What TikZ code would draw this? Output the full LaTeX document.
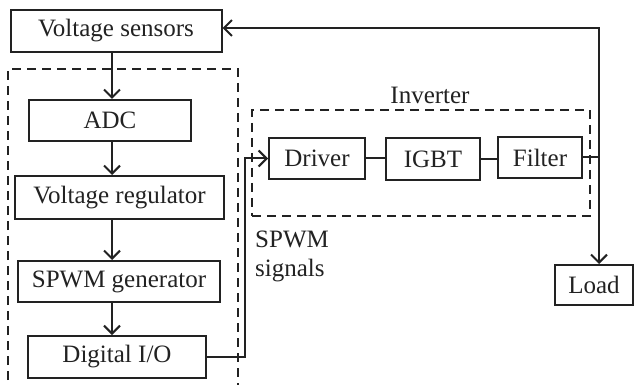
\documentclass[tikz,border=0pt]{standalone}
\usepackage{fontspec}
\setmainfont{Liberation Serif}
\usetikzlibrary{arrows.meta}
\definecolor{ink}{HTML}{222222}
\begin{document}
\begin{tikzpicture}[x=1pt,y=-1pt,
  every node/.style={font=\fontsize{25}{29}\selectfont, text=ink},
  blk/.style={draw=ink, line width=2pt, inner sep=0pt},
  dbox/.style={draw=ink, line width=2pt, dash pattern=on 9pt off 6pt},
  conn/.style={draw=ink, line width=2pt},
  arr/.style={conn, -{Straight Barb[length=8pt,width=16pt,line width=2pt]}},
  darr/.style={conn, {Straight Barb[length=8pt,width=16pt,line width=2pt]}-{Straight Barb[length=8pt,width=16pt,line width=2pt]}}]
\clip (0,0) rectangle (635,385);
\fill[white] (0,0) rectangle (635,385);
% left dashed controller box
\draw[dbox] (8,395) -- (8,69) -- (238,69) -- (238,395);
% blocks
\node[blk, minimum width=211pt, minimum height=42pt] (vs) at (116,31) {Voltage sensors};
\node[blk, minimum width=162pt, minimum height=41pt] (adc) at (110,120.5) {ADC};
\node[blk, minimum width=209pt, minimum height=43pt] (vr) at (119.5,197.5) {Voltage regulator};
\node[blk, minimum width=202pt, minimum height=41pt] (sg) at (119,281.5) {SPWM generator};
\node[blk, minimum width=178pt, minimum height=42pt] (dio) at (117,357) {Digital I/O};
% inverter
\node[dbox, minimum width=338pt, minimum height=106pt, inner sep=0pt] (inv) at (421,163) {};
\node (invlabel) at (430,95) {Inverter};
\node[blk, minimum width=96pt, minimum height=41pt] (drv) at (317,158.5) {Driver};
\node[blk, minimum width=94pt, minimum height=42pt] (igbt) at (433,159) {IGBT};
\node[blk, minimum width=84pt, minimum height=41pt] (flt) at (540,157.5) {Filter};
\node[blk, minimum width=78pt, minimum height=40pt] (load) at (594,285) {Load};
\node[anchor=north west, align=left, inner sep=0pt] (sig) at (255,231) {SPWM\\signals};
% helper coordinates
\coordinate (colx) at (112,0);
\coordinate (bend) at (245,0);
\coordinate (top) at (599,28);
% connectors
\draw[arr] (vs.south -| colx) -- (adc.north -| colx);
\draw[arr] (adc.south -| colx) -- (vr.north -| colx);
\draw[arr] (vr.south -| colx) -- (sg.north -| colx);
\draw[arr] (sg.south -| colx) -- (dio.north -| colx);
\draw[arr] (dio.east) -- (dio.east -| bend) -- (bend |- drv.west) -- (drv.west);
\draw[conn] (drv.east) -- (drv.east -| igbt.west);
\draw[conn] (igbt.east) -- (igbt.east -| flt.west);
\draw[conn] (flt.east) -- (flt.east -| top);
\draw[darr] (vs.east |- top) -- (top) -- (load.north -| top);
\end{tikzpicture}
\end{document}
